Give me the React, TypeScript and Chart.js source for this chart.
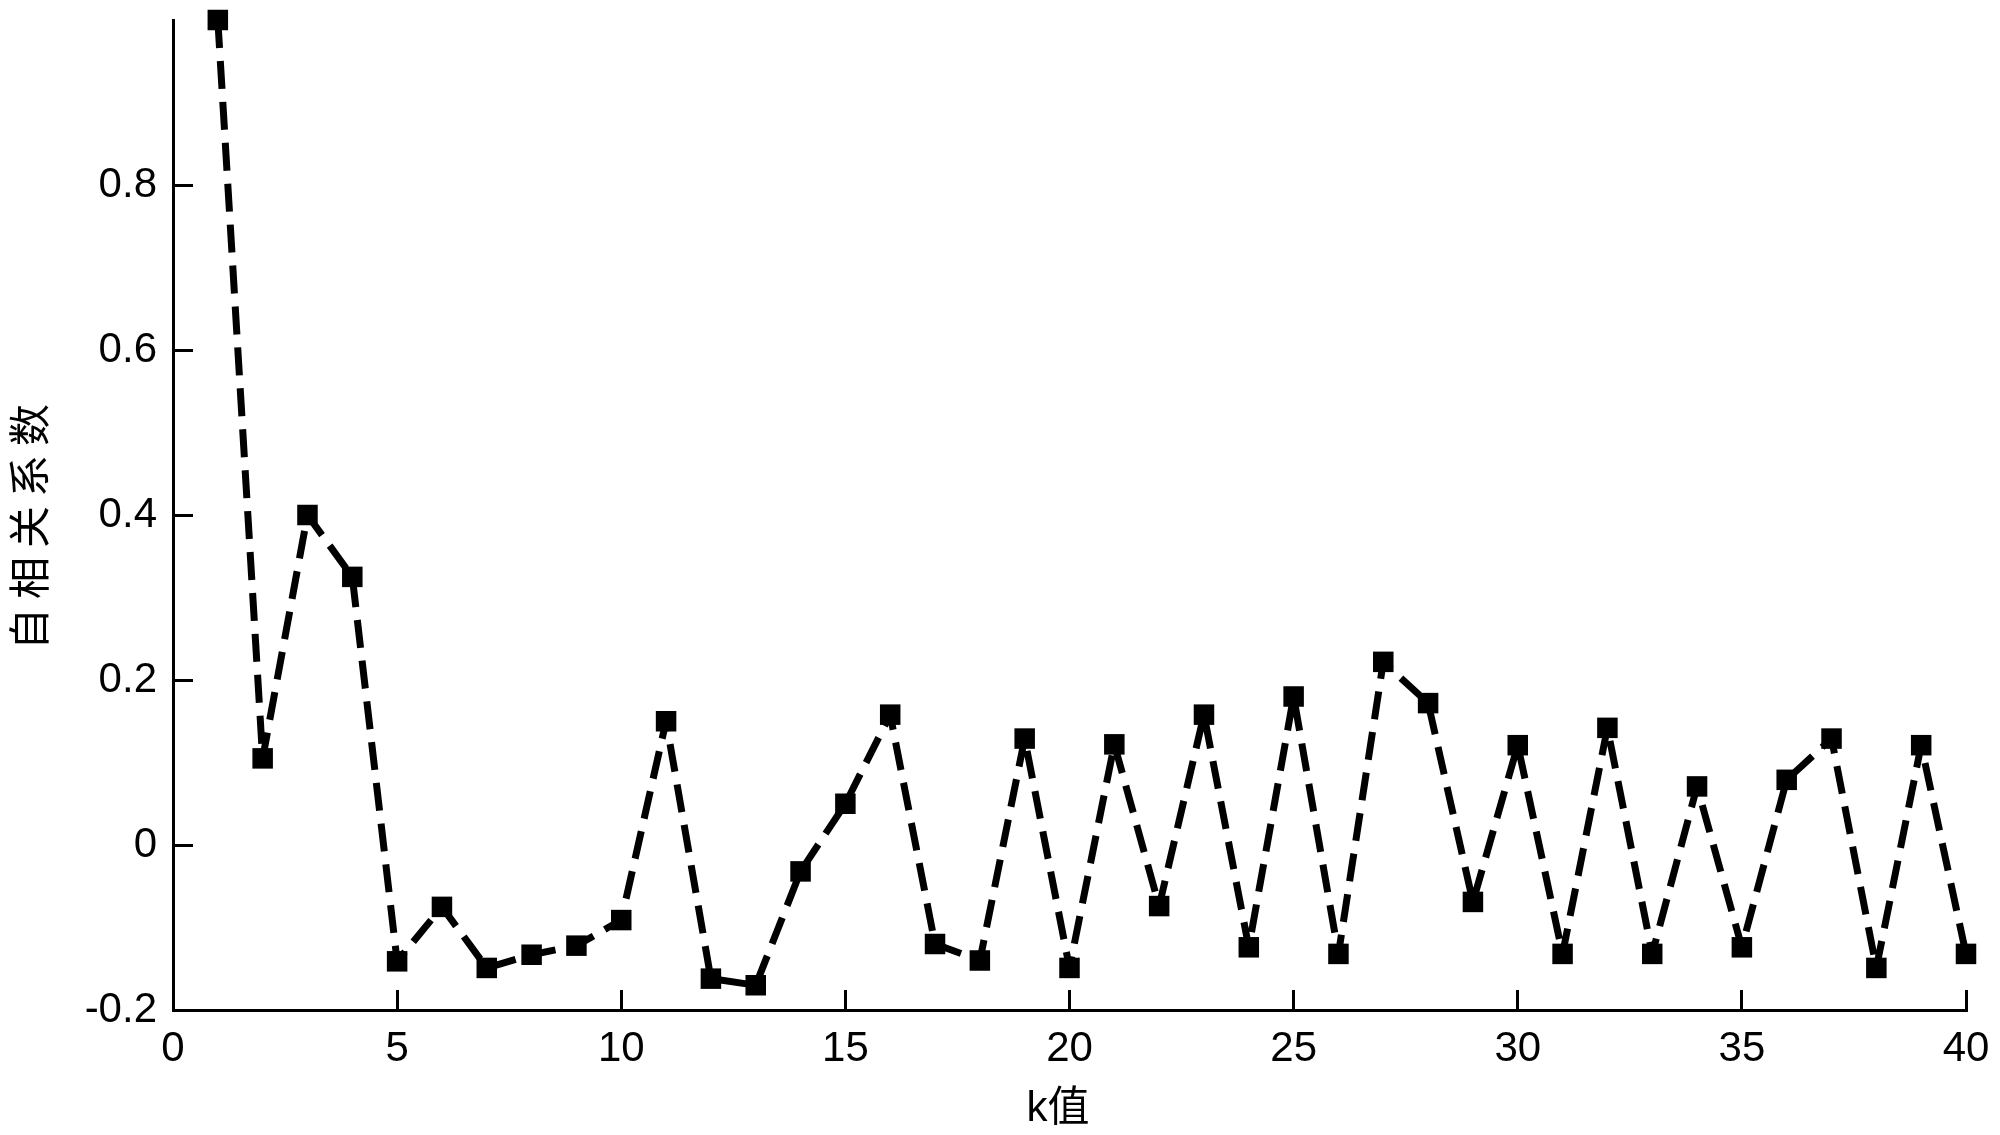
import React, { useEffect, useRef } from "react";
import { Chart, registerables } from "chart.js";

Chart.register(...registerables);

const kValues: number[] = Array.from({ length: 40 }, (_, i) => i + 1);
const acfValues: number[] = [
  1.0, 0.105, 0.40, 0.325, -0.141, -0.075, -0.149, -0.133, -0.122, -0.091,
  0.150, -0.162, -0.170, -0.032, 0.050, 0.158, -0.120, -0.140, 0.129, -0.149,
  0.122, -0.074, 0.158, -0.124, 0.180, -0.132, 0.222, 0.172, -0.069, 0.121,
  -0.132, 0.142, -0.132, 0.071, -0.124, 0.079, 0.129, -0.149, 0.121, -0.132,
];
const yTitle = "自相关系数";
const xTitle = "k值";
const xTicks = { min: 0, max: 40, step: 5 };
const yTicks = { min: -0.2, max: 1.0, step: 0.2 };

const LATIN = "'Liberation Sans', Arial, sans-serif";
const CJK = "'Liberation Sans', 'Noto Sans CJK SC', sans-serif";

const titlesPlugin = {
  id: "customTitles",
  afterDraw(chart: any) {
    const ctx = chart.ctx;
    ctx.save();
    ctx.fillStyle = "#000";
    ctx.font = `42px ${CJK}`;
    ctx.letterSpacing = "9px";
    ctx.textAlign = "center";
    ctx.textBaseline = "middle";
    ctx.translate(33, 527);
    ctx.rotate(-Math.PI / 2);
    ctx.fillText(yTitle, 4.5, 0);
    ctx.restore();

    ctx.save();
    ctx.fillStyle = "#000";
    ctx.font = `42px ${CJK}`;
    ctx.textAlign = "center";
    ctx.textBaseline = "alphabetic";
    ctx.fillText(xTitle, 1058, 1121);
    ctx.restore();
  },
};

export default function App() {
  const ref = useRef<HTMLCanvasElement | null>(null);
  useEffect(() => {
    document.body.style.margin = "0";
    if (!ref.current) return;
    const chart = new Chart(ref.current, {
      type: "line",
      data: {
        datasets: [
          {
            data: kValues.map((k, i) => ({ x: k, y: acfValues[i] })),
            borderColor: "#000",
            backgroundColor: "#000",
            borderWidth: 7,
            borderDash: [28, 13],
            borderCapStyle: "butt",
            borderJoinStyle: "bevel",
            pointStyle: "rect",
            pointRadius: 14.5,
            pointBorderWidth: 0,
            pointBackgroundColor: "#000",
            tension: 0,
            clip: false as any,
          },
        ],
      },
      options: {
        responsive: false,
        animation: false,
        devicePixelRatio: 1,
        layout: { padding: { top: 20, right: 34, left: 0, bottom: 0 } },
        plugins: { legend: { display: false }, tooltip: { enabled: false }, title: { display: false } },
        scales: {
          x: {
            type: "linear",
            min: xTicks.min,
            max: xTicks.max,
            ticks: {
              stepSize: xTicks.step,
              color: "#000",
              font: { family: LATIN, size: 42 },
              padding: 34,
              maxRotation: 0,
            },
            grid: {
              display: true,
              drawOnChartArea: false,
              drawTicks: true,
              tickLength: -20,
              lineWidth: 3,
              color: "#000",
            },
            border: { display: true, width: 3, color: "#000" },
            afterFit(scale: any) {
              scale.height = 125;
              scale.paddingLeft = 0;
              scale.paddingRight = 0;
            },
          },
          y: {
            type: "linear",
            min: yTicks.min,
            max: yTicks.max,
            ticks: {
              stepSize: yTicks.step,
              color: "#000",
              font: { family: LATIN, size: 42 },
              padding: 36,
              callback: (v: any) => {
                const n = Number(v);
                if (Math.abs(n - 1) < 1e-9) return "";
                if (Math.abs(n) < 1e-9) return "0";
                return n.toFixed(1);
              },
            },
            grid: {
              display: true,
              drawOnChartArea: false,
              drawTicks: true,
              tickLength: -20,
              lineWidth: 3,
              color: (c: any) =>
                c.tick && Math.abs(c.tick.value - 1) < 1e-9 ? "rgba(0,0,0,0)" : "#000",
            },
            border: { display: true, width: 3, color: "#000" },
            afterFit(scale: any) {
              scale.width = 173;
              scale.paddingTop = 0;
              scale.paddingBottom = 0;
            },
          },
        },
      },
      plugins: [titlesPlugin],
    } as any);
    return () => chart.destroy();
  }, []);
  return (
    <div style={{ position: "absolute", left: 0, top: 0, width: 2000, height: 1135, background: "#fff" }}>
      <canvas ref={ref} width={2000} height={1135} style={{ width: 2000, height: 1135, display: "block" }} />
    </div>
  );
}
